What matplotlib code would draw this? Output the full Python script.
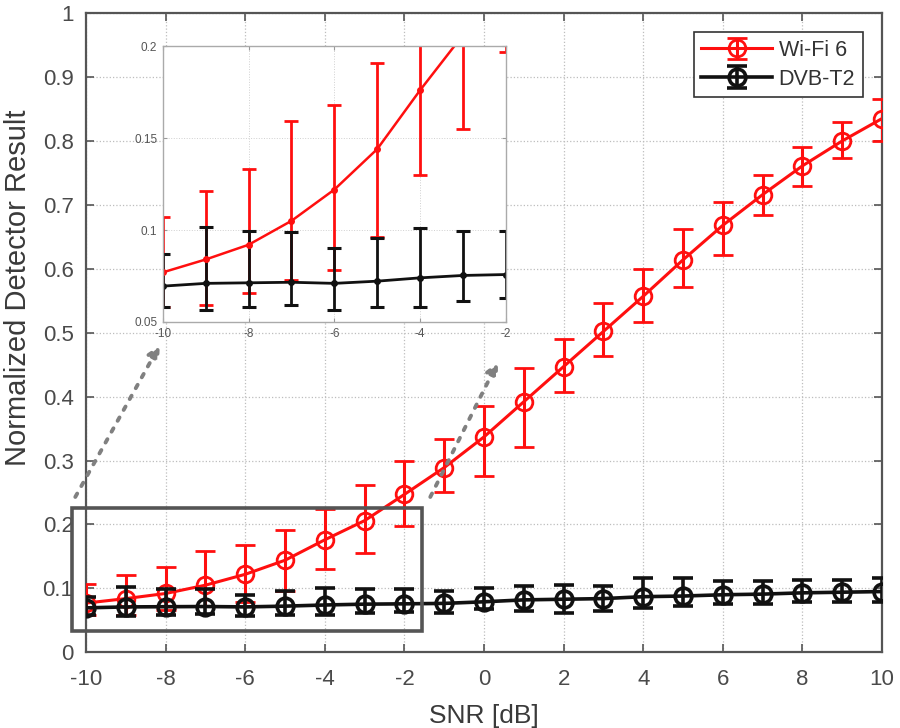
import matplotlib
matplotlib.use("Agg")
import matplotlib.pyplot as plt
import numpy as np
from matplotlib.patches import Rectangle

plt.rcParams['font.family'] = ['Liberation Sans', 'DejaVu Sans']

# ---------------- data ----------------
snr = [-10, -9, -8, -7, -6, -5, -4, -3, -2, -1, 0, 1, 2, 3, 4, 5, 6, 7, 8, 9, 10]

wifi_mean  = [0.077, 0.084, 0.092, 0.105, 0.122, 0.144, 0.176, 0.206, 0.247, 0.289, 0.337,
              0.392, 0.447, 0.502, 0.557, 0.614, 0.668, 0.716, 0.761, 0.800, 0.835]
wifi_upper = [0.107, 0.121, 0.133, 0.159, 0.168, 0.191, 0.224, 0.262, 0.300, 0.333, 0.385,
              0.444, 0.490, 0.546, 0.600, 0.663, 0.704, 0.747, 0.791, 0.830, 0.865]
wifi_lower = [0.058, 0.059, 0.066, 0.073, 0.078, 0.096, 0.130, 0.155, 0.197, 0.251, 0.276,
              0.321, 0.408, 0.464, 0.516, 0.572, 0.622, 0.684, 0.729, 0.773, 0.800]

dvb_mean  = [0.0695, 0.0710, 0.0713, 0.0716, 0.0710, 0.0722, 0.0740, 0.0753, 0.0758, 0.0765, 0.0790,
             0.0820, 0.0830, 0.0840, 0.0870, 0.0880, 0.0900, 0.0910, 0.0930, 0.0940, 0.0950]
dvb_upper = [0.0867, 0.1018, 0.0995, 0.0990, 0.0904, 0.0955, 0.1010, 0.0995, 0.0995, 0.0955, 0.1010,
             0.1030, 0.1050, 0.1040, 0.1160, 0.1170, 0.1110, 0.1110, 0.1130, 0.1130, 0.1170]
dvb_lower = [0.0582, 0.0567, 0.0580, 0.0595, 0.0567, 0.0580, 0.0580, 0.0616, 0.0630, 0.0610, 0.0670,
             0.0640, 0.0610, 0.0650, 0.0700, 0.0720, 0.0750, 0.0760, 0.0780, 0.0790, 0.0780]

series_labels = ["Wi-Fi 6", "DVB-T2"]
x_ticks = [-10, -8, -6, -4, -2, 0, 2, 4, 6, 8, 10]
y_ticks = [0, 0.1, 0.2, 0.3, 0.4, 0.5, 0.6, 0.7, 0.8, 0.9, 1]
y_ticklabels = ["0", "0.1", "0.2", "0.3", "0.4", "0.5", "0.6", "0.7", "0.8", "0.9", "1"]
inset_xticks = [-10, -8, -6, -4, -2]
inset_yticks = [0.05, 0.1, 0.15, 0.2]
inset_yticklabels = ["0.05", "0.1", "0.15", "0.2"]
zoom_box = (-10.35, 0.033, -1.55, 0.226)   # x0, y0, x1, y1 (data)

def yerr(mean, lower, upper):
    m = np.array(mean); return [m - np.array(lower), np.array(upper) - m]

# ---------------- figure ----------------
fig = plt.figure(figsize=(9, 7.28), dpi=100)
ax = fig.add_axes([0.0956, 0.104, 0.8844, 0.878])

tick_col = '#4a4a4a'
spine_col = '#555555'
red = '#ff0f0f'

ax.errorbar(snr, wifi_mean, yerr=yerr(wifi_mean, wifi_lower, wifi_upper), color=red,
            lw=2.2, marker='o', ms=12, mfc='none', mew=2.0, capsize=7, capthick=2.2,
            elinewidth=2.2, label=series_labels[0], zorder=3)
ax.errorbar(snr, dvb_mean, yerr=yerr(dvb_mean, dvb_lower, dvb_upper), color='#111111',
            lw=2.6, marker='o', ms=12, mfc='none', mew=2.6, capsize=7, capthick=2.8,
            elinewidth=2.6, label=series_labels[1], zorder=4)

ax.set_xlim(-10, 10)
ax.set_ylim(0, 1)
ax.set_xticks(x_ticks)
ax.set_xticklabels([str(t) for t in x_ticks])
ax.set_yticks(y_ticks)
ax.set_yticklabels(y_ticklabels)
ax.grid(True, linestyle=':', color='#bdbdbd', lw=0.9)
ax.tick_params(direction='in', top=True, right=True, length=6, width=1.2,
               colors=spine_col, labelcolor=tick_col, labelsize=16)
ax.tick_params(axis='x', pad=12)
ax.tick_params(axis='y', pad=9)
for s in ax.spines.values():
    s.set_color(spine_col); s.set_linewidth(1.6)

ax.set_xlabel("SNR [dB]", fontsize=19, color='#3a3a3a', labelpad=10)
ax.set_ylabel("Normalized Detector Result", fontsize=21, color='#3a3a3a')
ax.yaxis.set_label_coords(-0.068, 0.571)

leg = ax.legend(loc='upper right', fontsize=15.5, frameon=True, fancybox=False,
                framealpha=1, edgecolor='#333333', handlelength=3.3, borderaxespad=0.9,
                labelspacing=0.35, borderpad=0.35, handletextpad=0.3)
leg.get_frame().set_linewidth(1.2)
for t in leg.get_texts():
    t.set_color('#333333')

# zoom rectangle
rect = Rectangle((zoom_box[0], zoom_box[1]), zoom_box[2] - zoom_box[0], zoom_box[3] - zoom_box[1],
                 fill=False, edgecolor='#555555', lw=2.6, zorder=5, clip_on=False)
ax.add_patch(rect)

# ---------------- inset ----------------
axin = fig.add_axes([0.181, 0.5577, 0.381, 0.379])
axin.errorbar(snr, wifi_mean, yerr=yerr(wifi_mean, wifi_lower, wifi_upper), color=red,
              lw=1.8, marker='.', ms=8, capsize=5, capthick=2.0, elinewidth=2.0)
axin.errorbar(snr, dvb_mean, yerr=yerr(dvb_mean, dvb_lower, dvb_upper), color='#111111',
              lw=2.0, marker='.', ms=8, capsize=5, capthick=2.2, elinewidth=2.0)
axin.set_xlim(-10, -2)
axin.set_ylim(0.05, 0.2)
axin.set_xticks(inset_xticks)
axin.set_xticklabels([str(t) for t in inset_xticks])
axin.set_yticks(inset_yticks)
axin.set_yticklabels(inset_yticklabels)
axin.grid(True, linestyle=':', color='#d0d0d0', lw=0.7)
axin.tick_params(direction='in', top=True, right=True, length=3, width=0.8,
                 colors='#999999', labelcolor='#555555', labelsize=8.5, pad=4)
for s in axin.spines.values():
    s.set_color('#aaaaaa'); s.set_linewidth(1.0)

# ---------------- arrows ----------------
arrow_props = dict(arrowstyle='-|>', linestyle=(0, (1, 2.2)), lw=2.8, color='#808080',
                   mutation_scale=18, shrinkA=0, shrinkB=0)
ax.annotate('', xy=(-0.009, -0.083), xycoords=axin.transAxes,
            xytext=(zoom_box[0] + 0.08, zoom_box[3] + 0.017), textcoords='data',
            arrowprops=arrow_props, zorder=6)
ax.annotate('', xy=(0.977, -0.145), xycoords=axin.transAxes,
            xytext=(zoom_box[2] + 0.2, zoom_box[3] + 0.017), textcoords='data',
            arrowprops=arrow_props, zorder=6)

fig.savefig("out.png", dpi=100)
